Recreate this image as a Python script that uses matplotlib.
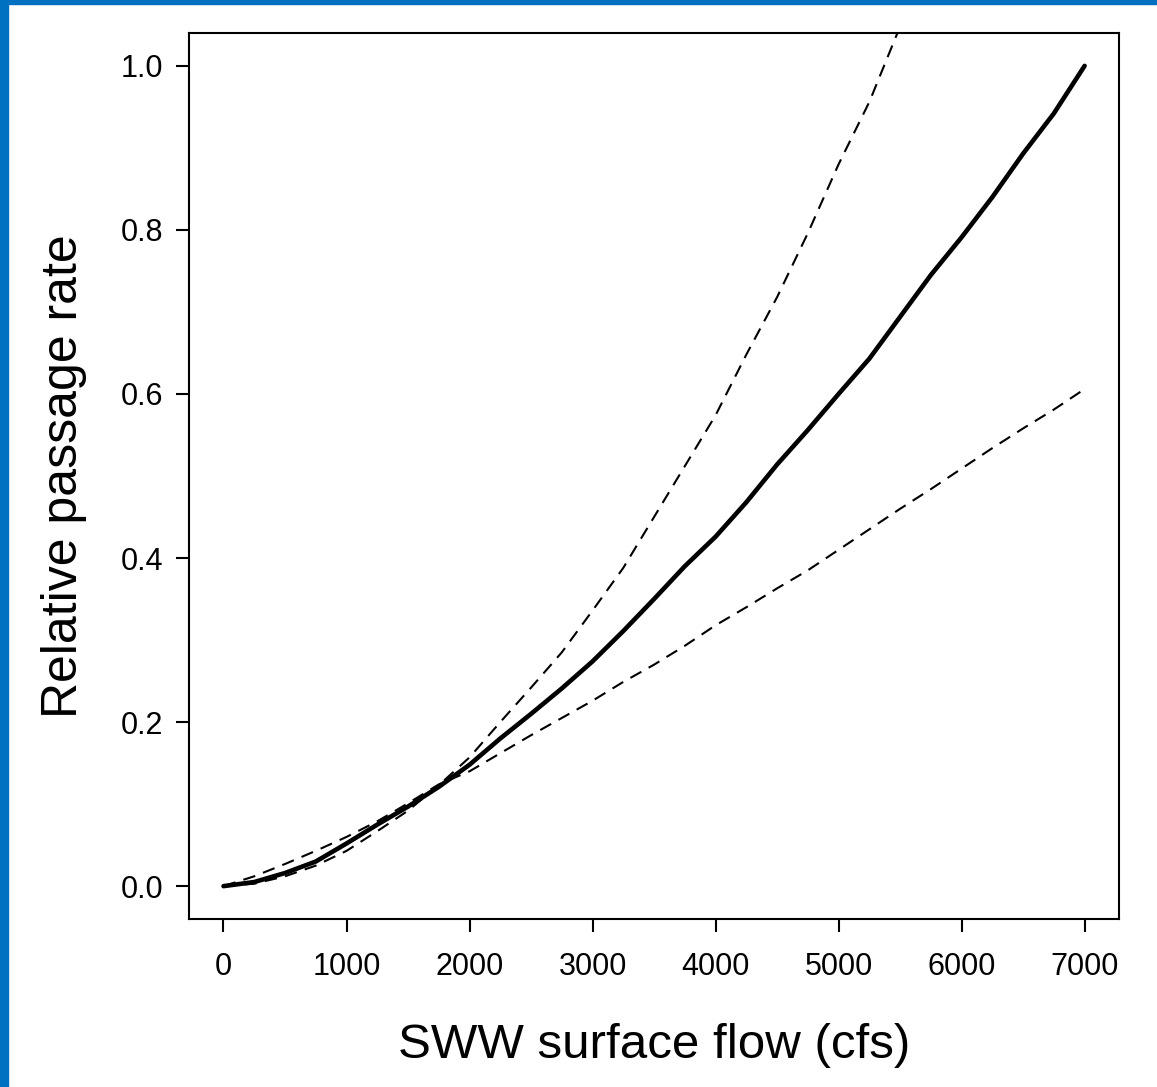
import matplotlib
matplotlib.use('Agg')
import matplotlib.pyplot as plt
from matplotlib.patches import Rectangle

plt.rcParams['font.family'] = ['Liberation Sans', 'DejaVu Sans']

# flow (cfs) and relative passage rate
flow = [0, 250, 500, 750, 1000, 1250, 1500, 1750, 2000, 2250, 2500, 2750,
        3000, 3250, 3500, 3750, 4000, 4250, 4500, 4750, 5000, 5250, 5500,
        5750, 6000, 6250, 6500, 6750, 7000]
rate = [0.0, 0.005, 0.016, 0.030, 0.052, 0.075, 0.097, 0.121, 0.148, 0.180,
        0.210, 0.241, 0.274, 0.311, 0.350, 0.390, 0.426, 0.468, 0.514, 0.556,
        0.600, 0.643, 0.694, 0.745, 0.791, 0.840, 0.893, 0.942, 1.000]

# upper band (leaves the plot above 1.04)
flow_upper = [0, 250, 500, 750, 1000, 1250, 1500, 1750, 2000, 2250, 2500,
              2750, 3000, 3250, 3500, 3750, 4000, 4250, 4500, 4750, 5000,
              5250, 5500]
rate_upper = [0.0, 0.003, 0.012, 0.025, 0.043, 0.067, 0.092, 0.123, 0.157,
              0.200, 0.242, 0.285, 0.336, 0.388, 0.450, 0.512, 0.574, 0.648,
              0.718, 0.796, 0.880, 0.956, 1.048]

# lower band
rate_lower = [0.0, 0.012, 0.027, 0.043, 0.060, 0.079, 0.101, 0.124, 0.140,
              0.162, 0.184, 0.205, 0.226, 0.249, 0.270, 0.293, 0.318, 0.340,
              0.363, 0.385, 0.410, 0.435, 0.460, 0.484, 0.509, 0.534, 0.558,
              0.581, 0.606]

x_ticks = [0, 1000, 2000, 3000, 4000, 5000, 6000, 7000]
y_ticks = [0.0, 0.2, 0.4, 0.6, 0.8, 1.0]

fig = plt.figure(figsize=(11.57, 10.87), dpi=100)
ax = fig.add_axes([0.1634, 0.1546, 0.8038, 0.815])

ax.plot(flow, rate, color='black', linewidth=3.3, solid_capstyle='round',
        solid_joinstyle='round')
ax.plot(flow_upper, rate_upper, color='black', linewidth=1.5,
        linestyle=(0, (6, 4)))
ax.plot(flow, rate_lower, color='black', linewidth=1.5,
        linestyle=(0, (6, 4)))

ax.set_xlim(-280, 7280)
ax.set_ylim(-0.04, 1.04)
ax.set_xticks(x_ticks)
ax.set_xticklabels([str(t) for t in x_ticks])
ax.set_yticks(y_ticks)
ax.set_yticklabels([f'{t:.1f}' for t in y_ticks])

for s in ax.spines.values():
    s.set_linewidth(1.5)
ax.tick_params(axis='both', direction='out', length=9.5, width=1.5,
               labelsize=22)
ax.tick_params(axis='x', pad=14)
ax.tick_params(axis='y', pad=9)

ax.set_xlabel('SWW surface flow (cfs)', fontsize=35.5, labelpad=30)
ax.set_ylabel('Relative passage rate', fontsize=36, labelpad=24)

# blue frame strips on the left and top edges
fig.patches.append(Rectangle((0, 0), 8 / 1157, 1, transform=fig.transFigure,
                             color='#0070C0', zorder=10))
fig.patches.append(Rectangle((0, 1 - 4 / 1087), 1, 4 / 1087,
                             transform=fig.transFigure, color='#0070C0',
                             zorder=10))

fig.savefig('out.png', dpi=100)
